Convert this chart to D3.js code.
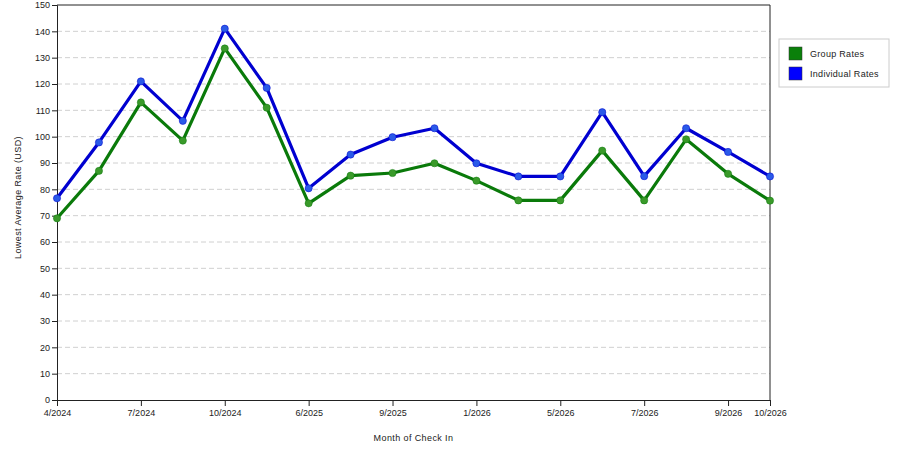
<!DOCTYPE html>
<html>
<head>
<meta charset="utf-8">
<script src="https://cdn.jsdelivr.net/npm/d3@7"></script>
<style>
  body { margin: 0; background: #fff; }
  svg { font-family: "Liberation Sans", Arial, sans-serif; }
</style>
</head>
<body>
<div id="chart"></div>
<script>
// months on the x axis (only some get a tick label)
var months = ["4/2024", "5/2024", "7/2024", "8/2024", "10/2024", "11/2024", "6/2025", "7/2025", "9/2025",
  "10/2025", "1/2026", "2/2026", "5/2026", "6/2026", "7/2026", "8/2026", "9/2026", "10/2026"];
var tickMonths = ["4/2024", "7/2024", "10/2024", "6/2025", "9/2025", "1/2026", "5/2026", "7/2026", "9/2026", "10/2026"];
var groupRates = [69, 87, 113, 98.5, 133.5, 111, 74.7, 85.2, 86.2, 89.9, 83.3, 75.8, 75.8, 94.7, 75.8, 99, 85.9, 75.7];
var individualRates = [76.6, 97.8, 121, 106, 141, 118.5, 80.4, 93.2, 99.8, 103.2, 89.9, 84.9, 84.9, 109.3, 85, 103.2, 94.2, 84.9];
var yTicks = d3.range(0, 151, 10);
var seriesNames = ["Group Rates", "Individual Rates"];
var seriesColors = ["#0a7a0a", "#0000d0"];
var pointColors = ["#3a9a2a", "#2a5ae8"];

var W = 900, H = 450;
var m = { left: 57, right: 130, top: 5, bottom: 50 };

var svg = d3.select("#chart").append("svg")
  .attr("width", W)
  .attr("height", H);

var x = d3.scalePoint().domain(months).range([m.left, W - m.right]);
var y = d3.scaleLinear().domain([0, 150]).range([H - m.bottom, m.top]);

// grid
svg.append("g")
  .selectAll("line")
  .data(yTicks.filter(d => d > 0 && d < 150))
  .join("line")
  .attr("x1", m.left)
  .attr("x2", W - m.right)
  .attr("y1", d => y(d))
  .attr("y2", d => y(d))
  .attr("stroke", "#d0d0d0")
  .attr("stroke-dasharray", "5,3");

// frame top/right
svg.append("line")
  .attr("x1", m.left).attr("x2", W - m.right)
  .attr("y1", y(150)).attr("y2", y(150))
  .attr("stroke", "#222");
svg.append("line")
  .attr("x1", W - m.right).attr("x2", W - m.right)
  .attr("y1", y(150)).attr("y2", y(0))
  .attr("stroke", "#222");

// axes
var yAxis = svg.append("g")
  .attr("transform", "translate(" + m.left + ",0)")
  .call(d3.axisLeft(y).tickValues(yTicks).tickSize(5).tickPadding(2));
var xAxis = svg.append("g")
  .attr("transform", "translate(0," + y(0) + ")")
  .call(d3.axisBottom(x).tickValues(tickMonths).tickSize(6).tickPadding(4));

[yAxis, xAxis].forEach(function(a) {
  a.select(".domain").attr("stroke", "#222");
  a.selectAll(".tick line").attr("stroke", "#222");
  a.selectAll("text").attr("fill", "#222").style("font-size", "9px")
    .style("font-family", "'Liberation Sans', Arial, sans-serif");
});

// axis titles
svg.append("text")
  .attr("transform", "translate(21," + (y(75) - 5) + ") rotate(-90)")
  .attr("text-anchor", "middle")
  .style("font-size", "9px")
  .attr("fill", "#222")
  .attr("letter-spacing", "0.4")
  .text("Lowest Average Rate (USD)");
svg.append("text")
  .attr("x", (m.left + W - m.right) / 2)
  .attr("y", 441)
  .attr("text-anchor", "middle")
  .style("font-size", "9px")
  .attr("fill", "#222")
  .attr("letter-spacing", "0.4")
  .text("Month of Check In");

// lines & points
var line = d3.line()
  .x((d, i) => x(months[i]))
  .y(d => y(d));

[groupRates, individualRates].forEach(function(vals, k) {
  svg.append("path")
    .datum(vals)
    .attr("d", line)
    .attr("fill", "none")
    .attr("stroke", seriesColors[k])
    .attr("stroke-width", 3.2)
    .attr("stroke-linejoin", "round");
  svg.append("g")
    .selectAll("circle")
    .data(vals)
    .join("circle")
    .attr("cx", (d, i) => x(months[i]))
    .attr("cy", d => y(d))
    .attr("r", 3.6)
    .attr("fill", pointColors[k])
    .attr("stroke", seriesColors[k])
    .attr("stroke-opacity", 0.5)
    .attr("stroke-width", 1);
});

// legend
var lg = svg.append("g").attr("transform", "translate(779,39)");
lg.append("rect")
  .attr("width", 110).attr("height", 48)
  .attr("fill", "#fff")
  .attr("stroke", "#ccc");
seriesNames.forEach(function(name, i) {
  lg.append("rect")
    .attr("x", 10).attr("y", 8 + i * 20)
    .attr("width", 13).attr("height", 13)
    .attr("fill", seriesColors[i] === "#0000d0" ? "#0000ff" : "#0a800a")
    .attr("stroke", "#333")
    .attr("stroke-width", 0.5);
  lg.append("text")
    .attr("x", 31).attr("y", 18 + i * 20)
    .style("font-size", "9px")
    .attr("fill", "#222")
    .attr("letter-spacing", "0.3")
    .text(name);
});
</script>
</body>
</html>
